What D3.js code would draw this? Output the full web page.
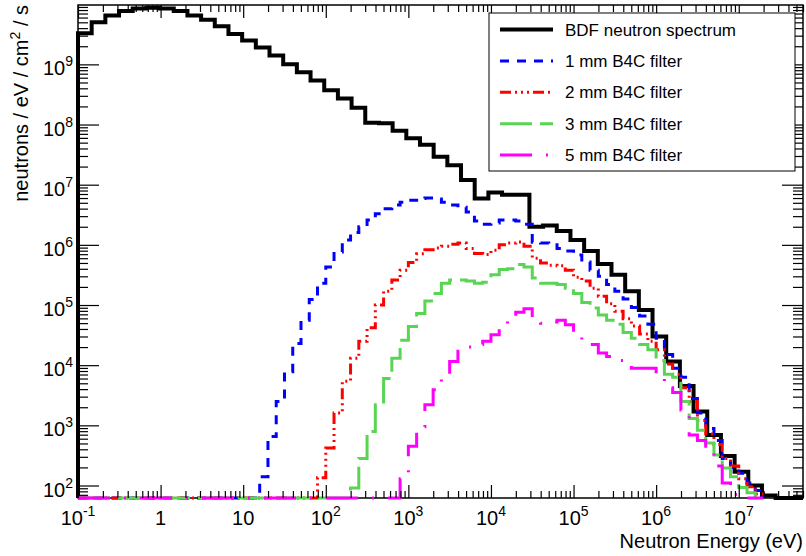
<!DOCTYPE html>
<html>
<head>
<meta charset="utf-8">
<script src="https://cdn.jsdelivr.net/npm/d3@7"></script>
<style>
  body { margin: 0; background: #fff; }
  text { font-family: "Liberation Sans", Arial, sans-serif; fill: #000; }
</style>
</head>
<body>
<div id="chart"></div>
<script>
// histogram binning (log-uniform, like the TH1 definitions)
const BDF_LO = 0.1, BDF_HI = 6e7, BDF_NBINS = 53;
const FILT_LO_EXP = -1, FILT_BINS_PER_DECADE = 10, FILT_NBINS = 83;

// BDF neutron spectrum (neutrons / eV / cm2 / s)
const bdf = [
  3.3e9, 5.0e9, 6.5e9, 7.7e9, 8.5e9, 8.7e9, 8.5e9, 7.7e9, 6.5e9, 5.5e9,
  4.3e9, 3.2e9, 2.5e9, 1.9e9, 1.4e9, 1.0e9, 7.4e8, 5.4e8, 3.7e8, 2.7e8,
  1.9e8, 1.07e8, 1.05e8, 7.9e7, 5.9e7, 4.6e7, 2.9e7, 2.1e7, 1.2e7, 5.9e6,
  7.4e6, 6.8e6, 6.8e6, 2.0e6, 2.1e6, 1.7e6, 1.2e6, 7.9e5, 4.8e5, 3.2e5,
  1.7e5, 8.3e4, 3.0e4, 1.15e4, 4500, 1700, 690, 310, 170, 100,
  68, 0, 0
];

const filter1mm = [
  0, 0, 0, 0, 0, 0, 0, 0, 0, 0,
  0, 0, 0, 0, 0, 0, 0, 0, 0, 0,
  0, 0, 140, 650, 2500, 7800, 2.3e4, 5.6e4, 1.23e5, 2.3e5,
  4.3e5, 7.6e5, 1.2e6, 1.6e6, 2.0e6, 2.6e6, 3.3e6, 4.0e6, 4.6e6, 5.1e6,
  5.5e6, 5.9e6, 6.0e6, 5.8e6, 5.1e6, 4.6e6, 4.2e6, 3.5e6, 2.5e6, 2.2e6,
  2.3e6, 2.6e6, 2.6e6, 2.5e6, 2.2e6, 1.1e6, 1.07e6, 1.0e6, 8.7e5, 7.9e5,
  6.8e5, 5.2e5, 3.8e5, 3.0e5, 2.2e5, 1.7e5, 1.26e5, 9.1e4, 6.6e4, 4.8e4,
  2.8e4, 1.5e4, 8900, 6300, 2800, 1600, 890, 560, 280, 200,
  160, 110, 83
];

const filter2mm = [
  0, 0, 0, 0, 0, 0, 0, 0, 0, 0,
  0, 0, 0, 0, 0, 0, 0, 0, 0, 0,
  0, 0, 0, 0, 0, 0, 0, 0, 0, 135,
  420, 1600, 5400, 1.3e4, 2.5e4, 4.2e4, 1.0e5, 1.7e5, 2.6e5, 3.8e5,
  5.1e5, 7.1e5, 8.3e5, 8.9e5, 9.5e5, 1.02e6, 1.07e6, 8.7e5, 7.2e5, 6.9e5,
  8.1e5, 1.0e6, 1.07e6, 1.12e6, 9.5e5, 6.0e5, 5.0e5, 4.6e5, 4.5e5, 3.8e5,
  2.9e5, 2.5e5, 1.9e5, 1.4e5, 1.05e5, 7.9e4, 5.9e4, 4.5e4, 3.3e4, 2.5e4,
  1.8e4, 1.05e4, 7100, 4200, 2500, 1200, 720, 480, 280, 210,
  130, 95, 72
];

const filter3mm = [
  0, 0, 0, 0, 0, 0, 0, 0, 0, 0,
  0, 0, 0, 0, 0, 0, 0, 0, 0, 0,
  0, 0, 0, 0, 0, 0, 0, 0, 0, 0,
  0, 0, 0, 91, 280, 790, 2200, 6000, 1.3e4, 2.6e4,
  4.4e4, 7.2e4, 1.17e5, 1.55e5, 2.3e5, 2.6e5, 2.6e5, 2.5e5, 2.3e5, 2.4e5,
  3.2e5, 3.9e5, 4.0e5, 4.7e5, 4.3e5, 2.8e5, 2.3e5, 2.3e5, 2.2e5, 1.9e5,
  1.55e5, 1.1e5, 8.9e4, 6.8e4, 5.6e4, 4.8e4, 3.5e4, 2.8e4, 2.2e4, 1.8e4,
  1.2e4, 7100, 6300, 2500, 1300, 830, 510, 320, 195, 140,
  93, 76, 0
];

const filter5mm = [
  0, 0, 0, 0, 0, 0, 0, 0, 0, 0,
  0, 0, 0, 0, 0, 0, 0, 0, 0, 0,
  0, 0, 0, 0, 0, 0, 0, 0, 0, 0,
  0, 0, 0, 0, 0, 0, 0, 0, 0, 130,
  450, 950, 2200, 3900, 6900, 1.15e4, 1.7e4, 2.0e4, 2.2e4, 2.5e4,
  3.2e4, 4.8e4, 6.6e4, 7.6e4, 8.7e4, 5.2e4, 5.0e4, 5.2e4, 5.6e4, 4.7e4,
  3.5e4, 2.3e4, 2.2e4, 1.6e4, 1.4e4, 1.2e4, 1.0e4, 8900, 8900, 8900,
  6600, 4200, 3500, 1800, 690, 560, 350, 210, 110, 71,
  0, 0, 0
];

const legendNames = ["BDF neutron spectrum", "1 mm B4C filter", "2 mm B4C filter", "3 mm B4C filter", "5 mm B4C filter"];

const WIDTH = 806, HEIGHT = 556;
const FRAME = {left: 78, right: 803, top: 5, bottom: 498};
const Y_MIN = 62, Y_MAX = 9.7e9;

const svg = d3.select("#chart").append("svg")
    .attr("width", WIDTH)
    .attr("height", HEIGHT);

const X = d3.scaleLog().domain([BDF_LO, BDF_HI]).range([FRAME.left, FRAME.right]);
const Y = d3.scaleLog().domain([Y_MIN, Y_MAX]).range([FRAME.bottom, FRAME.top]);

const bdfEdges = d3.range(BDF_NBINS + 1).map(i => BDF_LO * Math.pow(BDF_HI / BDF_LO, i / BDF_NBINS));
const filtEdges = d3.range(FILT_NBINS + 1).map(i => Math.pow(10, FILT_LO_EXP + i / FILT_BINS_PER_DECADE));

const series = [
  {values: bdf, edges: bdfEdges, color: "#000000", width: 4, dash: null},
  {values: filter1mm, edges: filtEdges, color: "#0000ff", width: 3, dash: "9,8"},
  {values: filter2mm, edges: filtEdges, color: "#ff0000", width: 3, dash: "11,4,2,4,2,4,2,4"},
  {values: filter3mm, edges: filtEdges, color: "#59d454", width: 3, dash: "32,8"},
  {values: filter5mm, edges: filtEdges, color: "#ff00ff", width: 3, dash: "32,14,2,14"}
];

// frame
svg.append("rect")
    .attr("x", FRAME.left).attr("y", FRAME.top)
    .attr("width", FRAME.right - FRAME.left)
    .attr("height", FRAME.bottom - FRAME.top)
    .attr("fill", "none").attr("stroke", "#000").attr("stroke-width", 1.5);

// histogram outline: up from the bottom, steps, back down
function histPath(edges, values) {
  const pts = [[edges[0], Y_MIN]];
  values.forEach((v, i) => pts.push([edges[i], Math.max(v, Y_MIN)]));
  pts.push([edges[values.length], Math.max(values[values.length - 1], Y_MIN)]);
  pts.push([edges[values.length], Y_MIN]);
  return d3.line()
      .x(d => X(d[0]))
      .y(d => Y(d[1]))
      .curve(d3.curveStepAfter)(pts);
}

series.forEach(s => {
  svg.append("path")
      .attr("d", histPath(s.edges, s.values))
      .attr("fill", "none")
      .attr("stroke", s.color)
      .attr("stroke-width", s.width)
      .attr("stroke-dasharray", s.dash);
});

// ticks
const isDecade = v => Math.abs(Math.log10(v) - Math.round(Math.log10(v))) < 1e-6;
const xMajor = X.ticks().filter(isDecade);
const xMinor = X.ticks().filter(v => !isDecade(v));
const yMajor = Y.ticks().filter(isDecade);
const yMinor = Y.ticks().filter(v => !isDecade(v));

function tickAxis(axis, values, size, transform) {
  svg.append("g")
      .attr("transform", transform)
      .call(axis.tickValues(values).tickSize(size).tickFormat(""))
      .call(g => g.select(".domain").remove())
      .selectAll("line").attr("stroke-width", 1.2);
}

tickAxis(d3.axisBottom(X), xMajor, -13, `translate(0,${FRAME.bottom})`);
tickAxis(d3.axisBottom(X), xMinor, -7, `translate(0,${FRAME.bottom})`);
tickAxis(d3.axisTop(X), xMajor, -13, `translate(0,${FRAME.top})`);
tickAxis(d3.axisTop(X), xMinor, -7, `translate(0,${FRAME.top})`);
tickAxis(d3.axisLeft(Y), yMajor, -21, `translate(${FRAME.left},0)`);
tickAxis(d3.axisLeft(Y), yMinor, -10, `translate(${FRAME.left},0)`);
tickAxis(d3.axisRight(Y), yMajor, -21, `translate(${FRAME.right},0)`);
tickAxis(d3.axisRight(Y), yMinor, -10, `translate(${FRAME.right},0)`);

// tick labels with superscript exponents
function powerLabel(sel, v) {
  const e = Math.round(Math.log10(v));
  if (e === 0) { sel.text("1"); return; }
  if (e === 1) { sel.text("10"); return; }
  sel.append("tspan").text("10");
  sel.append("tspan").attr("dy", -9).attr("font-size", 14).text(e);
}

xMajor.forEach(v => {
  svg.append("text")
      .attr("x", X(v)).attr("y", 525)
      .attr("text-anchor", "middle")
      .attr("font-size", 20)
      .call(powerLabel, v);
});

yMajor.forEach(v => {
  svg.append("text")
      .attr("x", 73).attr("y", Y(v) + 11)
      .attr("text-anchor", "end")
      .attr("font-size", 20)
      .call(powerLabel, v);
});

// axis titles
svg.append("text")
    .attr("x", FRAME.right).attr("y", 548)
    .attr("text-anchor", "end")
    .attr("font-size", 20)
    .text("Neutron Energy (eV)");

const yTitle = svg.append("text")
    .attr("transform", `translate(28,${FRAME.top}) rotate(-90)`)
    .attr("text-anchor", "end")
    .attr("font-size", 20);
yTitle.append("tspan").text("neutrons / eV / cm");
yTitle.append("tspan").attr("dy", -8).attr("font-size", 14).text("2");
yTitle.append("tspan").attr("dy", 8).text(" / s");

// legend
const LEG = {x: 489, y: 13, w: 306, h: 158};
svg.append("rect")
    .attr("x", LEG.x).attr("y", LEG.y)
    .attr("width", LEG.w).attr("height", LEG.h)
    .attr("fill", "#fff").attr("stroke", "#000").attr("stroke-width", 1);

series.forEach((s, i) => {
  const ly = 29.5 + i * 31.4;
  svg.append("line")
      .attr("x1", 500).attr("x2", 553)
      .attr("y1", ly).attr("y2", ly)
      .attr("stroke", s.color)
      .attr("stroke-width", s.width)
      .attr("stroke-dasharray", s.dash);
  svg.append("text")
      .attr("x", 565).attr("y", ly + 6)
      .attr("font-size", 17)
      .text(legendNames[i]);
});
</script>
</body>
</html>
